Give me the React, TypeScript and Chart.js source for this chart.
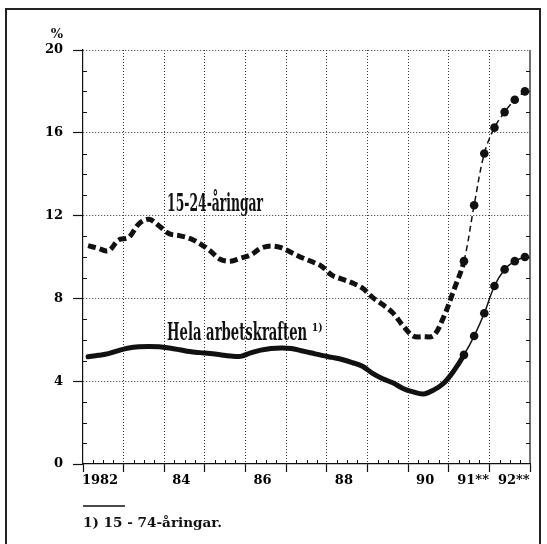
import React, { useEffect, useRef } from "react";
import { Chart, registerables } from "chart.js";

Chart.register(...registerables);

// Quarterly data 1982 Q1 – 1992 Q4 (44 quarters), unemployment in %
const startYear = 1982;
const endYear = 1993;
const forecastStart = 37; // 1991 Q2 onwards = forecast (dots)

const youth15to24 = [
  10.55, 10.42, 10.3, 10.82, 10.95, 11.6, 11.82, 11.5, 11.12, 11.03, 10.9,
  10.65, 10.3, 9.89, 9.8, 9.94, 10.1, 10.42, 10.53, 10.45, 10.22, 9.98, 9.78,
  9.55, 9.12, 8.93, 8.75, 8.5, 8.05, 7.7, 7.3, 6.68, 6.18, 6.15, 6.2, 7.1, 8.4,
  9.8, 12.5, 15.0, 16.25, 17.0, 17.6, 18.0,
];

const totalLabourForce = [
  5.18, 5.25, 5.33, 5.48, 5.6, 5.66, 5.68, 5.66, 5.6, 5.52, 5.43, 5.38, 5.34,
  5.28, 5.22, 5.2, 5.37, 5.5, 5.58, 5.6, 5.58, 5.47, 5.36, 5.25, 5.15, 5.05,
  4.9, 4.72, 4.38, 4.12, 3.92, 3.65, 3.48, 3.38, 3.57, 3.9, 4.5, 5.27, 6.18,
  7.28, 8.6, 9.4, 9.8, 10.0,
];

const xLabelYears = [1982, 1984, 1986, 1988, 1990, 1991, 1992];
const xLabels = ["1982", "84", "86", "88", "90", "91**", "92**"];

const seriesNames = ["15-24-åringar", "Hela arbetskraften"];
const footnoteMark = "1)";
const footnote = "1) 15 - 74-åringar.";
const unitLabel = "%";

const toPoints = (arr: number[]) =>
  arr.map((v, i) => ({ x: startYear + (i + 0.5) / 4, y: v }));

const FONT = "DejaVu Serif";

export default function App() {
  const ref = useRef<HTMLCanvasElement | null>(null);

  useEffect(() => {
    if (!ref.current) return;

    const labelTicks = xLabelYears.map((yr, i) => ({
      v: yr + (xLabels[i].includes("*") ? 0.6 : 0.42),
      l: xLabels[i],
    }));

    const condensed = (
      ctx: CanvasRenderingContext2D,
      text: string,
      x: number,
      y: number,
      font: string,
      width: number
    ) => {
      ctx.save();
      ctx.font = font;
      const m = ctx.measureText(text).width;
      ctx.translate(x, y);
      ctx.scale(width / m, 1);
      ctx.textAlign = "left";
      ctx.textBaseline = "alphabetic";
      ctx.fillText(text, 0, 0);
      ctx.restore();
    };

    const decor = {
      id: "decor",
      afterDraw(chart: any) {
        const { ctx, chartArea: a, scales } = chart;
        const x = scales.x;
        const y = scales.y;
        ctx.save();
        ctx.strokeStyle = "#111";
        ctx.fillStyle = "#111";
        ctx.lineWidth = 1.2;
        // right frame of plot
        ctx.beginPath();
        ctx.moveTo(a.right, a.top);
        ctx.lineTo(a.right, a.bottom);
        ctx.stroke();
        ctx.lineWidth = 1;
        // minor y ticks
        for (let v = 1; v < 20; v++) {
          if (v % 4 === 0) continue;
          const py = Math.round(y.getPixelForValue(v)) + 0.5;
          ctx.beginPath();
          ctx.moveTo(a.left, py);
          ctx.lineTo(a.left + 4, py);
          ctx.moveTo(a.right - 4, py);
          ctx.lineTo(a.right, py);
          ctx.stroke();
        }
        // minor x ticks (quarters)
        for (let yr = startYear; yr < endYear; yr++) {
          for (let q = 1; q < 4; q++) {
            const px = Math.round(x.getPixelForValue(yr + q / 4)) + 0.5;
            ctx.beginPath();
            ctx.moveTo(px, a.bottom);
            ctx.lineTo(px, a.bottom - 4);
            ctx.stroke();
          }
        }
        // unit label
        ctx.font = `bold 13px "${FONT}"`;
        ctx.textAlign = "right";
        ctx.textBaseline = "alphabetic";
        ctx.fillText(unitLabel, a.left - 20, a.top - 12);

        // series labels
        condensed(
          ctx,
          seriesNames[0],
          x.getPixelForValue(1984.07),
          y.getPixelForValue(12.22),
          `bold 25px "${FONT}"`,
          96
        );
        condensed(
          ctx,
          seriesNames[1],
          x.getPixelForValue(1984.07),
          y.getPixelForValue(5.99),
          `bold 24px "${FONT}"`,
          140
        );
        condensed(
          ctx,
          footnoteMark,
          x.getPixelForValue(1987.63),
          y.getPixelForValue(6.43),
          `bold 11px "${FONT}"`,
          11
        );

        // footnote
        ctx.lineWidth = 1.5;
        ctx.beginPath();
        ctx.moveTo(a.left, 506);
        ctx.lineTo(a.left + 42, 506);
        ctx.stroke();
        condensed(ctx, footnote, a.left, 527, `bold 13px "${FONT}"`, 139);
        ctx.restore();
      },
    };

    const gridColor = (c: any) =>
      c.tick && Number.isInteger(c.tick.value) &&
      c.tick.value !== startYear && c.tick.value !== endYear
        ? "#333"
        : "rgba(0,0,0,0)";
    const tickColor = (c: any) =>
      c.tick && Number.isInteger(c.tick.value) ? "#111" : "rgba(0,0,0,0)";

    const chart = new Chart(ref.current, {
      type: "line",
      data: {
        datasets: [
          {
            label: seriesNames[0],
            data: toPoints(youth15to24),
            borderColor: "#111",
            backgroundColor: "#111",
            borderWidth: 5,
            borderCapStyle: "butt",
            tension: 0.35,
            pointRadius: (c: any) => (c.dataIndex >= forecastStart ? 4.3 : 0),
            pointBackgroundColor: "#111",
            pointBorderWidth: 0,
            segment: {
              borderWidth: (c: any) => (c.p0DataIndex >= forecastStart ? 1.5 : 5),
              borderDash: (c: any) =>
                c.p0DataIndex >= forecastStart ? [6, 4] : [8, 4],
            },
          } as any,
          {
            label: seriesNames[1],
            data: toPoints(totalLabourForce),
            borderColor: "#111",
            backgroundColor: "#111",
            borderWidth: 5,
            borderCapStyle: "round",
            tension: 0.35,
            pointRadius: (c: any) => (c.dataIndex >= forecastStart ? 4.3 : 0),
            pointBackgroundColor: "#111",
            pointBorderWidth: 0,
            segment: {
              borderWidth: (c: any) => (c.p0DataIndex >= forecastStart ? 1.5 : 5),
            },
          } as any,
        ],
      },
      options: {
        responsive: false,
        animation: false,
        events: [],
        layout: { padding: { left: 0, right: 17, top: 50, bottom: 0 } },
        plugins: {
          legend: { display: false },
          tooltip: { enabled: false },
          title: { display: false },
        },
        scales: {
          x: {
            type: "linear",
            min: startYear,
            max: endYear,
            afterBuildTicks: (axis: any) => {
              const vals: number[] = [];
              for (let yr = startYear; yr <= endYear; yr++) vals.push(yr);
              labelTicks.forEach((t) => vals.push(t.v));
              vals.sort((p, q) => p - q);
              axis.ticks = vals.map((v) => ({ value: v }));
            },
            afterFit: (s: any) => {
              s.height = 80;
            },
            grid: {
              color: gridColor,
              tickColor: tickColor,
              tickLength: 8,
              lineWidth: 1,
              tickWidth: 1.2,
            },
            border: { display: true, color: "#111", width: 1.2, dash: [1, 2] },
            ticks: {
              autoSkip: false,
              maxRotation: 0,
              minRotation: 0,
              padding: 1,
              color: "#000",
              font: { family: FONT, weight: "bold", size: 13 },
              callback: (value: any) => {
                const t = labelTicks.find((k) => Math.abs(k.v - Number(value)) < 1e-6);
                return t ? t.l : "";
              },
            },
          } as any,
          y: {
            min: 0,
            max: 20,
            afterFit: (s: any) => {
              s.width = 83;
            },
            grid: {
              color: (c: any) => (c.tick && c.tick.value === 0 ? "rgba(0,0,0,0)" : "#333"),
              tickColor: "#111",
              tickLength: 10,
              lineWidth: 1,
              tickWidth: 1.2,
            },
            border: { display: true, color: "#111", width: 1.2, dash: [1, 2] },
            ticks: {
              stepSize: 4,
              padding: 10,
              color: "#000",
              font: { family: FONT, weight: "bold", size: 13 },
            },
          } as any,
        },
      },
      plugins: [decor],
    });

    return () => chart.destroy();
  }, []);

  return (
    <div
      style={{
        position: "fixed",
        left: 0,
        top: 0,
        width: 547,
        height: 544,
        overflow: "hidden",
        background: "#fff",
      }}
    >
      <div
        style={{
          position: "absolute",
          left: 5,
          top: 8,
          width: 532,
          height: 600,
          border: "2px solid #222",
        }}
      />
      <canvas
        ref={ref}
        width={547}
        height={544}
        style={{ position: "absolute", left: 0, top: 0 }}
      />
    </div>
  );
}
